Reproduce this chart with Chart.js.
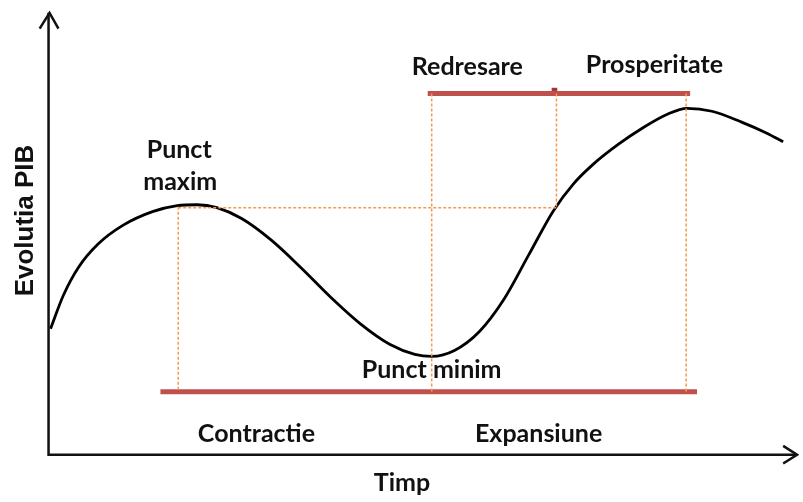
<!DOCTYPE html>
<html>
<head>
<meta charset="utf-8">
<script src="https://cdn.jsdelivr.net/npm/chart.js@4"></script>
<style>
html,body{margin:0;padding:0;background:#fff;}
#wrap{width:803px;height:502px;}
</style>
</head>
<body>
<div id="wrap"><canvas id="c" width="803" height="502"></canvas></div>
<script>
// Business cycle curve: time vs. GDP level
const timeValues = [47,60,75,95,120,150,175,195,215,240,270,300,330,360,390,415,432,455,480,505,530,555,575,595,620,645,670,690,715,745,770,787];
const gdpValues  = [172,206,234,258,277,291,297,298,295,284,262,234,204,177,156,146,144,150,169,202,247,292,319,339,359,376,390,396,393,382,371,362];

// Key moments on the time axis
const tMax1 = 176, tMin = 432, tRecovered = 558, tMax2 = 689;
const gdpMax1 = 296, gdpMin = 144, gdpMax2 = 396;
// Phase bars levels
const phaseLowLevel = 108, phaseHighLevel = 411;
const phaseLowStart = 158, phaseLowEnd = 700;
const phaseHighStart = 428, phaseHighEnd = 693;

// Axes extent
const axisOrigin = [45, 44];
const axisYEnd = 493;
const axisXEnd = 801;

// Text labels
const labelTexts = ["Punct", "maxim", "Redresare", "Prosperitate", "Punct minim", "Contractie", "Expansiune", "Timp", "Evolutia PIB"];
const labelTimes = [177, 178, 468, 657, 432, 255, 540, 402, 22];
const labelLevels = [354, 321, 438, 440, 130, 65, 65, 15, 282];

const curve = timeValues.map((t, i) => ({x: t, y: gdpValues[i]}));

const dashStyle = {borderColor: '#f39a50', borderWidth: 1.5, borderDash: [3, 2], pointRadius: 0, tension: 0, fill: false};
const barStyle = {borderColor: '#c0504d', borderWidth: 5, pointRadius: 0, tension: 0, fill: false, borderCapStyle: 'butt'};
const axisStyle = {borderColor: '#111', borderWidth: 2.5, pointRadius: 0, tension: 0, fill: false};

const datasets = [
  // dashed guides
  Object.assign({data: [{x: tMax1, y: gdpMax1}, {x: tMax1, y: phaseLowLevel}]}, dashStyle),
  Object.assign({data: [{x: tMax1, y: gdpMax1 - 1}, {x: tRecovered, y: gdpMax1 - 1}]}, dashStyle),
  Object.assign({data: [{x: tMin, y: phaseHighLevel}, {x: tMin, y: phaseLowLevel}]}, dashStyle),
  Object.assign({data: [{x: tRecovered, y: phaseHighLevel}, {x: tRecovered, y: gdpMax1 - 1}]}, dashStyle),
  Object.assign({data: [{x: tMax2, y: phaseHighLevel}, {x: tMax2, y: phaseLowLevel}]}, dashStyle),
  // phase bars
  Object.assign({data: [{x: phaseLowStart, y: phaseLowLevel}, {x: phaseLowEnd, y: phaseLowLevel}]}, barStyle),
  Object.assign({data: [{x: phaseHighStart, y: phaseHighLevel}, {x: phaseHighEnd, y: phaseHighLevel}]}, barStyle),
  {data: [{x: tRecovered - 2, y: phaseHighLevel + 3}], showLine: false, pointStyle: 'rect', pointRadius: 4, pointBackgroundColor: '#9e3b38', pointBorderWidth: 0},
  // axes
  Object.assign({data: [{x: axisOrigin[0], y: axisYEnd}, {x: axisOrigin[0], y: axisOrigin[1]}, {x: axisXEnd, y: axisOrigin[1]}]}, axisStyle),
  Object.assign({data: [{x: axisOrigin[0] - 9, y: axisYEnd - 16}, {x: axisOrigin[0] + 1, y: axisYEnd}, {x: axisOrigin[0] + 10, y: axisYEnd - 16}]}, axisStyle),
  Object.assign({data: [{x: axisXEnd - 14, y: axisOrigin[1] + 9}, {x: axisXEnd, y: axisOrigin[1]}, {x: axisXEnd - 14, y: axisOrigin[1] - 9}]}, axisStyle),
  // business cycle curve
  {data: curve, borderColor: '#000', borderWidth: 2.8, pointRadius: 0, tension: 0.4, cubicInterpolationMode: 'monotone', fill: false}
];

const textPlugin = {
  id: 'texts',
  afterDatasetsDraw(chart) {
    const ctx = chart.ctx, xs = chart.scales.x, ys = chart.scales.y;
    ctx.save();
    ctx.fillStyle = '#111';
    ctx.textAlign = 'center';
    ctx.textBaseline = 'middle';
    labelTexts.forEach((txt, i) => {
      const px = xs.getPixelForValue(labelTimes[i]);
      const py = ys.getPixelForValue(labelLevels[i]);
      if (txt === 'Evolutia PIB') {
        ctx.save();
        ctx.translate(px, py);
        ctx.rotate(-Math.PI / 2);
        ctx.font = 'bold 26px "Liberation Sans", Arial, sans-serif';
        ctx.fillText(txt, 0, 0);
        ctx.restore();
      } else {
        ctx.font = 'bold 25px Lato, "Open Sans", sans-serif';
        ctx.fillText(txt, px, py);
      }
    });
    ctx.restore();
  }
};

new Chart(document.getElementById('c'), {
  type: 'scatter',
  data: {datasets: datasets.map(d => Object.assign({showLine: d.showLine !== false}, d))},
  options: {
    responsive: false,
    animation: false,
    layout: {padding: 0},
    plugins: {legend: {display: false}, tooltip: {enabled: false}},
    scales: {
      x: {type: 'linear', min: 0, max: 803, display: false},
      y: {type: 'linear', min: 0, max: 502, display: false}
    }
  },
  plugins: [textPlugin]
});
</script>
</body>
</html>
